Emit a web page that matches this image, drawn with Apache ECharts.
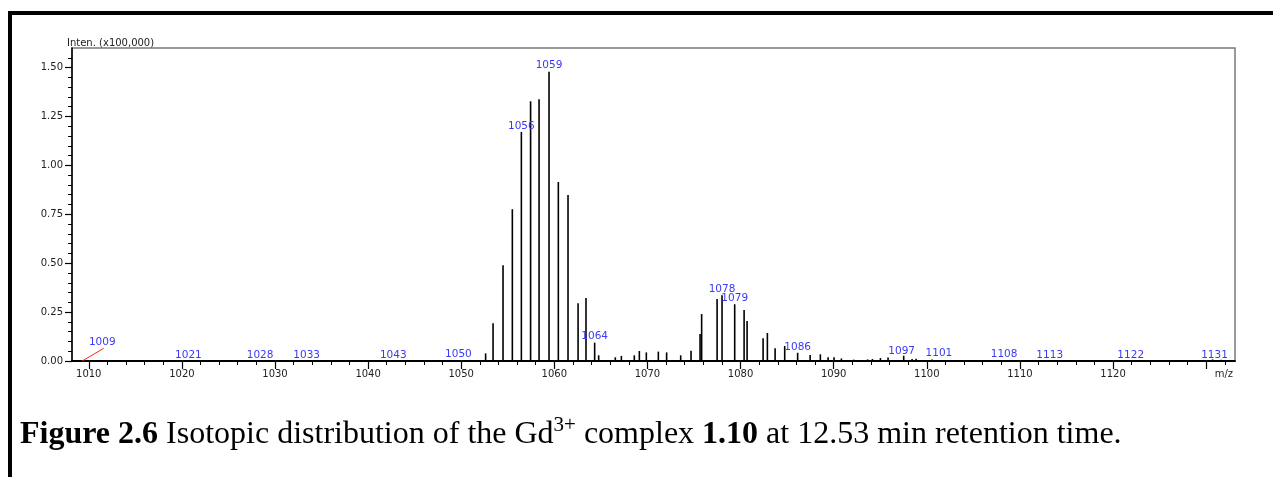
<!DOCTYPE html>
<html>
<head>
<meta charset="utf-8">
<script src="https://cdn.jsdelivr.net/npm/echarts@6/dist/echarts.min.js"></script>
<style>
html,body{margin:0;padding:0;background:#fff;}
#c{width:1273px;height:477px;}
</style>
</head>
<body>
<div id="c"></div>
<script>
// ---- data ----
const peakMz = [1052.62,1053.42,1054.49,1055.49,1056.46,1057.45,1058.36,1059.43,1060.43,1061.47,
  1062.55,1063.40,1064.33,1064.76,1066.55,1067.20,1068.59,1069.13,1069.88,1071.17,1072.06,1073.57,
  1074.68,1075.65,1075.82,1077.48,1078.01,1079.37,1080.38,1080.70,1082.42,1082.88,1083.71,1084.74,
  1086.13,1087.47,1088.57,1089.40,1090.04,1090.83,1092.15,1093.65,1094.16,1095.02,1095.84,1097.52,
  1098.42,1098.85,1100.57,1102.5,1104.0,1106.0,1111.5,1114.5,1118.5,1126.0,1130.7,1131.6];
const peakInt = [0.039,0.193,0.489,0.776,1.171,1.328,1.338,1.479,0.915,0.849,
  0.295,0.322,0.094,0.029,0.019,0.026,0.029,0.051,0.044,0.048,0.044,0.029,
  0.053,0.138,0.240,0.317,0.336,0.290,0.261,0.204,0.116,0.143,0.065,0.077,
  0.042,0.031,0.034,0.019,0.019,0.013,0.007,0.008,0.010,0.015,0.018,0.027,
  0.010,0.012,0.008,0.005,0.004,0.005,0.004,0.004,0.003,0.004,0.008,0.006];

const labelText = ['1009','1021','1028','1033','1043','1050','1056','1059','1064','1078','1079','1086','1097','1101','1108','1113','1122','1131'];
const labelMz   = [1011.45,1020.7,1028.4,1033.4,1042.7,1049.7,1056.46,1059.43,1064.33,1078.01,1079.37,1086.13,1097.3,1101.3,1108.3,1113.2,1121.9,1130.9];
const labelInt  = [0.065,0,0,0,0,0.005,1.171,1.479,0.094,0.336,0.290,0.042,0.02,0.01,0.005,0,0,0];

const redLineMz  = [1009.3, 1011.6];
const redLineInt = [0, 0.065];

const xMajorTicks = [1010,1020,1030,1040,1050,1060,1070,1080,1090,1100,1110,1120,1130];
const xTickLabels = [1010,1020,1030,1040,1050,1060,1070,1080,1090,1100,1110,1120];
const yTickLabels = [0,0.25,0.5,0.75,1.0,1.25,1.5];

// ---- derived ----
const xMinor = []; for (let v = 1010; v <= 1132; v += 2) xMinor.push(v);
const yMinor = []; for (let i = 0; i <= 31; i++) yMinor.push(+(i*0.05).toFixed(2));
const X_MIN = 1008.2, X_MAX = 1133.1, Y_MAX = 1.6;

const peaks = peakMz.map((m,i)=>[m, peakInt[i]]);
const labels = labelMz.map((m,i)=>[m, labelInt[i]]);
const red = redLineMz.map((m,i)=>[m, redLineInt[i]]);

const FONT = '"DejaVu Sans", sans-serif';
const SERIF = '"Liberation Serif", "Times New Roman", serif';
const chart = echarts.init(document.getElementById('c'), null, {renderer:'canvas'});
chart.setOption({
  animation:false,
  backgroundColor:'#fff',
  grid:{left:72, top:48, right:38, bottom:116, show:true, borderColor:'#7a7a7a', borderWidth:1.5, backgroundColor:'transparent'},
  xAxis:[
    {type:'value', min:X_MIN, max:X_MAX, position:'bottom',
     axisLine:{show:true, lineStyle:{color:'#000', width:1.8}},
     axisTick:{show:true, customValues:xMinor, length:4, lineStyle:{color:'#000', width:1}},
     axisLabel:{show:true, customValues:xTickLabels, fontSize:10, fontFamily:FONT, color:'#222', margin:8,
       formatter:v=>String(Math.round(v))},
     splitLine:{show:false}},
    {type:'value', min:X_MIN, max:X_MAX, position:'bottom',
     axisLine:{show:false},
     axisTick:{show:true, customValues:xMajorTicks, length:8, lineStyle:{color:'#000', width:1.2}},
     axisLabel:{show:false}, splitLine:{show:false}}
  ],
  yAxis:[
    {type:'value', min:0, max:Y_MAX, position:'left',
     axisLine:{show:true, lineStyle:{color:'#000', width:1.5}},
     axisTick:{show:true, customValues:yMinor, length:4, lineStyle:{color:'#000', width:1}},
     axisLabel:{show:true, customValues:yTickLabels, fontSize:10, fontFamily:FONT, color:'#222', margin:9,
       formatter:v=>Number(v).toFixed(2)},
     splitLine:{show:false}},
    {type:'value', min:0, max:Y_MAX, position:'left',
     axisLine:{show:false},
     axisTick:{show:true, customValues:yTickLabels, length:7, lineStyle:{color:'#000', width:1.2}},
     axisLabel:{show:false}, splitLine:{show:false}}
  ],
  series:[
    {type:'custom', xAxisIndex:0, yAxisIndex:0, data:peaks, z:3,
     renderItem:(params, api)=>{
       const p0 = api.coord([api.value(0), 0]);
       const p1 = api.coord([api.value(0), api.value(1)]);
       return {type:'line', shape:{x1:p0[0], y1:p0[1], x2:p1[0], y2:p1[1]}, style:{stroke:'#000', lineWidth:1.6}};
     }},
    {type:'line', xAxisIndex:0, yAxisIndex:0, data:red, symbol:'none', lineStyle:{color:'#ff2020', width:1}, z:4},
    {type:'custom', xAxisIndex:0, yAxisIndex:0, data:labels, z:5, clip:false,
     renderItem:(params, api)=>{
       const p = api.coord([api.value(0), api.value(1)]);
       return {type:'text', x:p[0], y:p[1]-0.5,
         style:{text:labelText[params.dataIndex], fill:'#3a3af5', fontSize:10.5, fontFamily:FONT, align:'center', verticalAlign:'bottom'}};
     }}
  ],
  graphic:[
    {type:'rect', shape:{x:8, y:11, width:1265, height:4}, style:{fill:'#000'}},
    {type:'rect', shape:{x:8, y:11, width:4, height:466}, style:{fill:'#000'}},
    {type:'text', x:67, y:43, style:{text:'Inten. (x100,000)', fontSize:10, fontFamily:FONT, fill:'#222', verticalAlign:'middle'}},
    {type:'text', x:1233, y:374, style:{text:'m/z', fontSize:10, fontFamily:FONT, fill:'#222', align:'right', verticalAlign:'middle'}},
    {type:'text', x:20, y:415,
     style:{
       text:'{b|Figure 2.6}{n| Isotopic distribution of the Gd}{s|3+}{n| complex }{b|1.10}{n| at 12.53 min retention time.}',
       fontFamily:SERIF,
       rich:{
         b:{fontSize:32, fontWeight:'bold', fontFamily:SERIF, fill:'#000', lineHeight:40},
         n:{fontSize:32, fontFamily:SERIF, fill:'#000', lineHeight:40},
         s:{fontSize:21, fontFamily:SERIF, fill:'#000', lineHeight:21, verticalAlign:'top'}
       }
     }}
  ]
});
</script>
</body>
</html>
